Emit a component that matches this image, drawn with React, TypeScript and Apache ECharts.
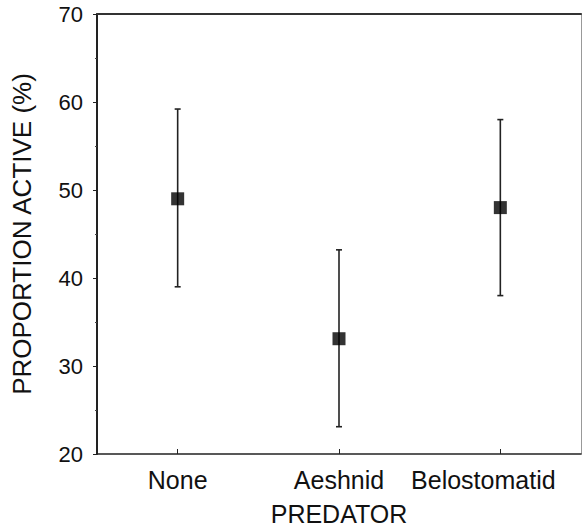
import React, { useEffect, useRef } from "react";
import * as echarts from "echarts";

const categories = ["None", "Aeshnid", "Belostomatid"];
const means = [49, 33.1, 48];
const lows = [39, 23.1, 38];
const highs = [59.2, 43.2, 58];
const yTicks = { min: 20, max: 70, interval: 10 };

const FONT = "'Liberation Sans', Arial, sans-serif";

export default function App() {
  const ref = useRef<HTMLDivElement>(null);
  useEffect(() => {
    document.body.style.margin = "0";
    const chart = echarts.init(ref.current!, null, { renderer: "svg" });
    const errData = categories.map((_, i) => [i, lows[i], highs[i]]);
    const catData = categories.map((c, i) =>
      i === categories.length - 1 ? { value: c, textStyle: { padding: [0, 34, 0, 0] } } : c
    );
    chart.setOption({
      animation: false,
      backgroundColor: "#ffffff",
      grid: { left: 97, right: 1, top: 14, bottom: 70, containLabel: false },
      xAxis: [
        {
          type: "category",
          data: catData,
          boundaryGap: true,
          name: "PREDATOR",
          nameLocation: "middle",
          nameGap: 47,
          nameTextStyle: { fontFamily: FONT, fontSize: 25, color: "#111" },
          axisLine: { show: true, lineStyle: { color: "#222", width: 1.5 } },
          axisTick: { show: true, inside: true, alignWithLabel: true, length: 5, lineStyle: { color: "#222" } },
          axisLabel: { interval: 0, fontFamily: FONT, fontSize: 25, color: "#111", margin: 13, hideOverlap: false },
          splitLine: { show: false },
        },
        {
          type: "category",
          data: categories,
          position: "top",
          axisLine: { show: true, lineStyle: { color: "#333", width: 2 } },
          axisTick: { show: false },
          axisLabel: { show: false },
          splitLine: { show: false },
        },
      ],
      yAxis: [
        {
          type: "value",
          min: yTicks.min,
          max: yTicks.max,
          interval: yTicks.interval,
          name: "PROPORTION ACTIVE (%)",
          nameLocation: "middle",
          nameGap: 62,
          nameTextStyle: { fontFamily: FONT, fontSize: 26, color: "#111" },
          axisLine: { show: true, lineStyle: { color: "#222", width: 2 } },
          axisTick: { show: true, inside: false, length: 4, lineStyle: { color: "#222" } },
          minorTick: { show: true, splitNumber: 2, length: 2, lineStyle: { color: "#444" } },
          axisLabel: { fontFamily: FONT, fontSize: 22, color: "#111", margin: 14 },
          splitLine: { show: false },
        },
        {
          type: "value",
          min: yTicks.min,
          max: yTicks.max,
          interval: yTicks.interval,
          position: "right",
          axisLine: { show: true, lineStyle: { color: "#999", width: 1 } },
          axisTick: { show: false },
          axisLabel: { show: false },
          splitLine: { show: false },
        },
      ],
      series: [
        {
          type: "custom",
          xAxisIndex: 0,
          yAxisIndex: 0,
          data: errData,
          renderItem: (params: any, api: any) => {
            const x = api.value(0);
            const lo = api.coord([x, api.value(1)]);
            const hi = api.coord([x, api.value(2)]);
            const w = 3;
            const style = { stroke: "#222", lineWidth: 1.6 };
            return {
              type: "group",
              children: [
                { type: "line", shape: { x1: hi[0], y1: hi[1], x2: lo[0], y2: lo[1] }, style },
                { type: "line", shape: { x1: hi[0] - w, y1: hi[1], x2: hi[0] + w, y2: hi[1] }, style },
                { type: "line", shape: { x1: lo[0] - w, y1: lo[1], x2: lo[0] + w, y2: lo[1] }, style },
              ],
            };
          },
          z: 2,
        },
        {
          type: "scatter",
          xAxisIndex: 0,
          yAxisIndex: 0,
          data: means,
          symbol: "rect",
          symbolSize: 13,
          itemStyle: { color: "#000" },
          z: 3,
        },
      ],
    });
    return () => chart.dispose();
  }, []);
  return <div ref={ref} style={{ width: 582, height: 531 }} />;
}
